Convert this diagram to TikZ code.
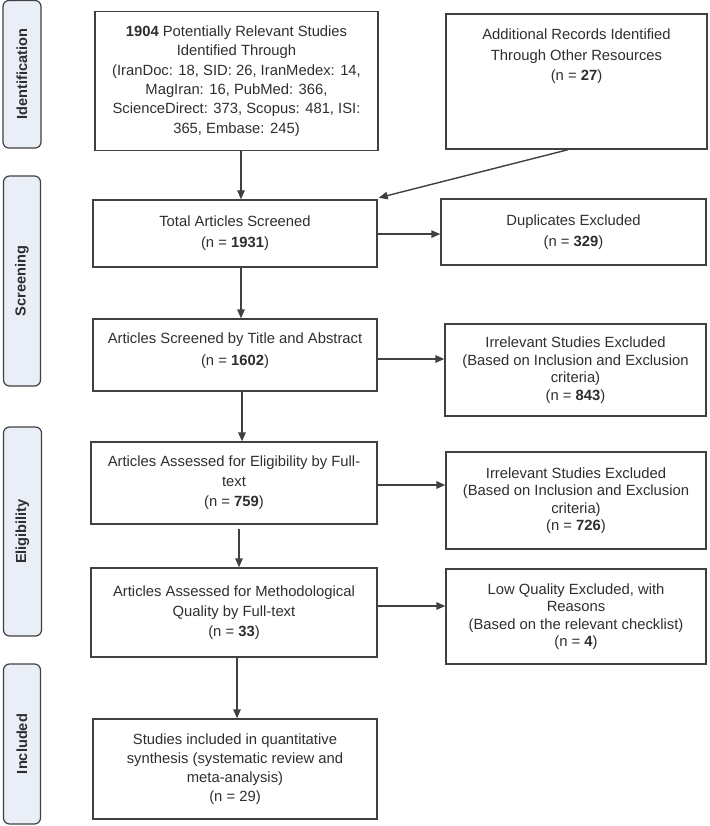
\documentclass[tikz,border=0pt]{standalone}
\usepackage{fontspec}
\setmainfont{Liberation Sans}
\usetikzlibrary{arrows.meta}
\definecolor{linec}{HTML}{404040}
\definecolor{textc}{HTML}{2E2E2E}
\definecolor{sidefill}{HTML}{E9EEF7}
\begin{document}
\begin{tikzpicture}[x=1pt,y=-1pt,
  every node/.style={text=textc},
  box/.style={draw=linec,line width=1.4pt,rectangle,inner sep=0pt,align=center,
    font=\fontsize{14.8}{20}\selectfont},
  rbox/.style={box,font=\fontsize{14.8}{17.5}\selectfont},
  side/.style={draw=linec,line width=1.2pt,fill=sidefill,rounded corners=6pt,rotate=90,
    inner sep=0pt,font=\bfseries\fontsize{14.6}{17}\selectfont},
  arr/.style={draw=linec,line width=1.4pt,-{Triangle[length=9pt,width=7.5pt]}}]
\useasboundingbox (0,0) rectangle (709,826);
% side labels
\node[side,minimum width=147.5pt,minimum height=38pt] (sid) at (22,74.25) {Identification};
\node[side,minimum width=210pt,minimum height=37pt] (ssc) at (22,281) {Screening};
\node[side,minimum width=209pt,minimum height=38pt] (sel) at (22.5,531.5) {Eligibility};
\node[side,minimum width=160pt,minimum height=37pt] (sin) at (22,744) {Included};
% boxes
\node[box,minimum width=283pt,minimum height=139pt,font=\fontsize{14.8}{19.4}\selectfont] (b1) at (236.5,81)
  {\textbf{1904} Potentially Relevant Studies\\Identified Through\\(IranDoc: 18, SID: 26, IranMedex: 14,\\MagIran: 16, PubMed: 366,\\ScienceDirect: 373, Scopus: 481, ISI:\\365, Embase: 245)};
\node[box,minimum width=261pt,minimum height=135pt] (b2) at (576.5,81.5) {};
\node[anchor=north,inner sep=0pt,align=center,font=\fontsize{14.8}{20.5}\selectfont] (b2t) at (576.5,29)
  {Additional Records Identified\\Through Other Resources\\(n = \textbf{27})};
\node[box,minimum width=284pt,minimum height=67pt] (total) at (235,233.5)
  {Total Articles Screened\\[1pt](n = \textbf{1931})};
\node[box,minimum width=265pt,minimum height=66pt] (dup) at (573.5,232)
  {Duplicates Excluded\\[1pt](n = \textbf{329})};
\node[box,minimum width=284pt,minimum height=72pt] (ta) at (235,355)
  {Articles Screened by Title and Abstract\\[2pt](n = \textbf{1602})\\[-8pt]\mbox{}};
\node[rbox,minimum width=261pt,minimum height=92pt] (irr1) at (575.5,370)
  {Irrelevant Studies Excluded\\(Based on Inclusion and Exclusion\\criteria)\\(n = \textbf{843})};
\node[box,minimum width=286pt,minimum height=82pt] (elig) at (234,483)
  {Articles Assessed for Eligibility by Full-\\text\\(n = \textbf{759})};
\node[rbox,minimum width=260pt,minimum height=97pt] (irr2) at (576,500.5)
  {Irrelevant Studies Excluded\\(Based on Inclusion and Exclusion\\criteria)\\(n = \textbf{726})};
\node[box,minimum width=286pt,minimum height=89pt] (meth) at (234,612.5)
  {Articles Assessed for Methodological\\Quality by Full-text\\(n = \textbf{33})};
\node[rbox,minimum width=260pt,minimum height=95pt] (low) at (576,616.5)
  {Low Quality Excluded, with\\Reasons\\(Based on the relevant checklist)\\(n = \textbf{4})};
\node[box,minimum width=284pt,minimum height=100pt,font=\fontsize{14.8}{19}\selectfont] (stud) at (235,769)
  {Studies included in quantitative\\synthesis (systematic review and\\meta-analysis)\\(n = 29)};
% connectors
\draw[arr] ([xshift=4.5pt]b1.south) -- ([xshift=6pt]total.north);
\draw[arr] ([xshift=-8.5pt]b2.south) -- ([xshift=1pt,yshift=1.5pt]total.north east);
\draw[arr] ([yshift=-0.6pt]total.east) -- ([yshift=-0.6pt]total.east -| dup.west);
\draw[arr] ([xshift=6pt]total.south) -- ([xshift=6pt]ta.north);
\draw[arr] ([yshift=-4pt]ta.east) -- ([yshift=-4pt]ta.east -| irr1.west);
\draw[arr] ([xshift=7pt]ta.south) -- ([xshift=8pt]elig.north);
\draw[arr] ([yshift=-2pt]elig.east) -- ([yshift=-2pt]elig.east -| irr2.west);
\draw[arr] ([xshift=5pt,yshift=-4pt]elig.south) -- ([xshift=5pt]meth.north);
\draw[arr] ([yshift=6.5pt]meth.east) -- ([yshift=6.5pt]meth.east -| low.west);
\draw[arr] ([xshift=3pt]meth.south) -- ([xshift=2pt]stud.north);
\end{tikzpicture}
\end{document}
